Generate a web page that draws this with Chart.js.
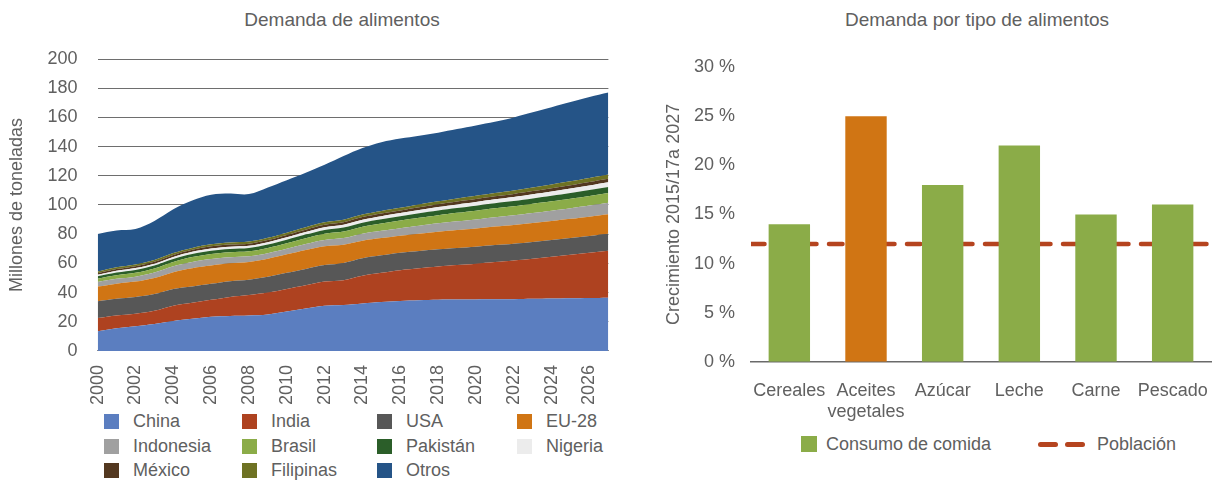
<!DOCTYPE html>
<html>
<head>
<meta charset="utf-8">
<script src="https://cdn.jsdelivr.net/npm/chart.js@4.4.1/dist/chart.umd.min.js"></script>
<style>
    body { margin: 0; background: #fff; font-family: 'Liberation Sans', Arial, sans-serif; color: #606060; }
    #page { position: relative; width: 1213px; height: 480px; overflow: hidden; }
    .title { position: absolute; top: 9px; font-size: 19px; line-height: 22px; white-space: nowrap; transform: translateX(-50%); }
    #boxLeft { position: absolute; left: 0; top: 0; width: 636px; height: 411px; }
    #boxRight { position: absolute; left: 640px; top: 0; width: 573px; height: 433px; }
    .leg { position: absolute; font-size: 18px; white-space: nowrap; line-height: 20px; }
    .sw { position: absolute; width: 15px; height: 15px; }
    .dash { position: absolute; width: 20px; height: 5px; border-radius: 3px; background: #b5441f; }
</style>
</head>
<body>
<div id="page">
    <div class="title" style="left:342px">Demanda de alimentos</div>
    <div class="title" style="left:977px">Demanda por tipo de alimentos</div>
    <div id="boxLeft"><canvas id="demandChart"></canvas></div>
    <div id="boxRight"><canvas id="typeChart"></canvas></div>
    <div id="legendLeft"></div>
    <div id="legendRight"></div>
</div>
<script>
// --- Datos: demanda de alimentos (millones de toneladas) ---
const years = ['2000', '2001', '2002', '2003', '2004', '2005', '2006', '2007', '2008', '2009',
    '2010', '2011', '2012', '2013', '2014', '2015', '2016', '2017', '2018', '2019',
    '2020', '2021', '2022', '2023', '2024', '2025', '2026', '2027'];

const china = [13.5, 15.5, 17, 18.5, 20.5, 22, 23.5, 24, 24.3, 25, 27, 29, 31, 31.5, 32.5, 33.5, 34.3, 34.8, 35.1, 35.2, 35.3, 35.4, 35.5, 35.7, 35.9, 36.1, 36.3, 36.5];
const india = [9, 8.8, 8.5, 9, 10.5, 11, 11.5, 13, 14, 15, 15.5, 16, 16.5, 17, 19, 20, 21, 21.8, 22.7, 23.6, 24.5, 25.5, 26.5, 27.5, 28.6, 29.8, 31, 32.2];
const usa = [11.6, 11.5, 11.5, 11.5, 11.5, 11.2, 11, 10.8, 10.5, 10.8, 11, 11.2, 11.3, 11.8, 12, 12, 12, 11.9, 11.8, 11.7, 11.6, 11.6, 11.5, 11.5, 11.5, 11.5, 11.5, 11.6];
const eu28 = [10, 10.3, 10.5, 11, 11.5, 12.5, 12.5, 12.2, 12.2, 12.4, 12.7, 13, 13, 12.5, 12, 11.8, 11.6, 11.8, 12, 12.3, 12.5, 12.7, 12.8, 12.9, 13, 13.1, 13.2, 13.3];
const indonesia = [3.2, 3.3, 3.4, 3.7, 4, 4.3, 4.5, 4.2, 3.8, 3.8, 3.8, 4, 4.2, 4.5, 4.8, 5, 5.2, 5.5, 5.8, 6, 6.2, 6.4, 6.6, 6.9, 7.1, 7.3, 7.6, 7.9];
const brasil = [2.2, 2.4, 2.6, 2.8, 3, 3.3, 3.5, 3.5, 3.5, 3.6, 3.8, 4, 4.3, 4.5, 4.8, 5, 5.2, 5.4, 5.6, 5.8, 6, 6.1, 6.2, 6.3, 6.4, 6.5, 6.6, 6.7];
const pakistan = [1.6, 1.9, 2, 2, 2, 2.1, 2.2, 2.2, 2.2, 2.3, 2.4, 2.5, 2.6, 2.7, 2.8, 2.9, 3, 3.1, 3.2, 3.3, 3.4, 3.5, 3.6, 3.7, 3.8, 3.9, 4, 4.1];
const nigeria = [1.1, 1.2, 1.3, 1.3, 1.4, 1.5, 1.5, 1.5, 1.5, 1.6, 1.7, 1.8, 1.9, 2, 2, 2.1, 2.2, 2.3, 2.4, 2.5, 2.6, 2.7, 2.8, 2.9, 3, 3.1, 3.2, 3.3];
const mexico = [1.1, 1.2, 1.3, 1.3, 1.4, 1.4, 1.5, 1.5, 1.5, 1.5, 1.6, 1.6, 1.7, 1.7, 1.8, 1.8, 1.8, 1.9, 1.9, 2, 2, 2, 2.1, 2.1, 2.2, 2.2, 2.3, 2.3];
const filipinas = [1.1, 1.2, 1.2, 1.2, 1.3, 1.3, 1.4, 1.4, 1.4, 1.5, 1.5, 1.6, 1.6, 1.7, 1.7, 1.8, 1.8, 1.9, 2, 2.1, 2.2, 2.3, 2.4, 2.5, 2.6, 2.7, 2.8, 3];
const otros = [25.8, 25.2, 24.2, 26.7, 29.9, 32.4, 33.9, 33.5, 32.6, 34.5, 36, 37.3, 39.4, 43.6, 45.6, 47.1, 47.4, 47.1, 47, 47.5, 48.2, 48.8, 50, 51.5, 52.9, 54.3, 55.5, 56.1];
const yTicksLeft = [0, 20, 40, 60, 80, 100, 120, 140, 160, 180, 200];

// --- Datos: crecimiento por tipo de alimento ---
const foodTypes = ['Cereales', ['Aceites', 'vegetales'], 'Azúcar', 'Leche', 'Carne', 'Pescado'];
const foodGrowth = [14, 25, 18, 22, 15, 16];
const populationGrowth = 12;
const yTicksRight = [0, 5, 10, 15, 20, 25, 30];

const grey = '#606060';
const series = [
    { name: 'China', data: china, color: '#5b7ec0' },
    { name: 'India', data: india, color: '#ae4220' },
    { name: 'USA', data: usa, color: '#575757' },
    { name: 'EU-28', data: eu28, color: '#d07514' },
    { name: 'Indonesia', data: indonesia, color: '#a0a0a0' },
    { name: 'Brasil', data: brasil, color: '#8bac48' },
    { name: 'Pakistán', data: pakistan, color: '#2b5e29' },
    { name: 'Nigeria', data: nigeria, color: '#ececec' },
    { name: 'México', data: mexico, color: '#533820' },
    { name: 'Filipinas', data: filipinas, color: '#6e7223' },
    { name: 'Otros', data: otros, color: '#255487' }
];

Chart.defaults.font.family = "'Liberation Sans', Arial, sans-serif";
Chart.defaults.color = grey;
Chart.defaults.animation = false;

// Gráfico de áreas apiladas
new Chart(document.getElementById('demandChart'), {
    type: 'line',
    data: {
        labels: years,
        datasets: series.map((s, i) => ({
            label: s.name,
            data: s.data,
            backgroundColor: s.color,
            borderColor: s.color,
            borderWidth: 0,
            pointRadius: 0,
            tension: 0.35,
            fill: i === 0 ? 'origin' : '-1'
        }))
    },
    options: {
        responsive: true,
        maintainAspectRatio: false,
        layout: { padding: { top: 59, right: 10, left: 6 } },
        plugins: { legend: { display: false }, tooltip: { enabled: false } },
        scales: {
            x: {
                offset: false,
                grid: { display: false },
                border: { color: '#8a8a8a' },
                ticks: {
                    autoSkip: false, maxRotation: 90, minRotation: 90,
                    font: { size: 18 }, color: grey, padding: 6,
                    callback: (v, i) => (i % 2 === 0 ? years[i] : '')
                }
            },
            y: {
                stacked: true,
                min: 0, max: 200,
                afterBuildTicks: axis => { axis.ticks = yTicksLeft.map(v => ({ value: v })); },
                grid: { color: '#6e6e6e', drawTicks: false },
                border: { display: false },
                ticks: { font: { size: 18 }, color: grey, padding: 20 },
                title: { display: true, text: 'Millones de toneladas', font: { size: 18 }, color: grey, padding: 0 }
            }
        }
    }
});

// Gráfico de barras con línea de población
new Chart(document.getElementById('typeChart'), {
    type: 'bar',
    data: {
        labels: foodTypes,
        datasets: [
            {
                label: 'Consumo de comida',
                data: foodGrowth,
                backgroundColor: foodTypes.map((t, i) => (i === 1 ? '#d07514' : '#8bac48')),
                grouped: false,
                categoryPercentage: 0.54,
                barPercentage: 1
            },
            {
                type: 'line',
                label: 'Población',
                data: [{ x: 0, y: populationGrowth }, { x: 1, y: populationGrowth }],
                xAxisID: 'x2',
                borderColor: '#b5441f',
                borderWidth: 4.5,
                borderDash: [13.5, 12.5],
                borderCapStyle: 'round',
                pointRadius: 0,
                fill: false
            }
        ]
    },
    options: {
        responsive: true,
        maintainAspectRatio: false,
        layout: { padding: { top: 67, right: 2, left: 23 } },
        plugins: { legend: { display: false }, tooltip: { enabled: false } },
        scales: {
            x: {
                grid: { display: false },
                border: { color: '#6a6a6a', width: 1.5 },
                ticks: { font: { size: 18 }, color: grey, padding: 10, autoSkip: false, maxRotation: 0, minRotation: 0 },
                afterFit: axis => { axis.paddingLeft = 0; axis.paddingRight = 0; }
            },
            x2: {
                type: 'linear', min: 0, max: 1, display: false,
                offset: false, grid: { offset: false }
            },
            y: {
                min: 0, max: 30,
                afterBuildTicks: axis => { axis.ticks = yTicksRight.map(v => ({ value: v })); },
                afterFit: axis => { axis.width = 88; },
                grid: { display: false },
                border: { display: false },
                ticks: { font: { size: 18 }, color: grey, padding: 8, callback: v => v + ' %' },
                title: { display: true, text: 'Crecimiento 2015/17a 2027', font: { size: 18 }, color: grey, padding: 0 }
            }
        }
    }
});

// Leyendas
const legendLeft = document.getElementById('legendLeft');
const colX = [104, 242, 377, 517];
const rowY = [421, 446, 470];
series.forEach((s, i) => {
    const x = colX[i % 4], y = rowY[Math.floor(i / 4)];
    const sw = document.createElement('div');
    sw.className = 'sw';
    sw.style.left = x + 'px';
    sw.style.top = (y - 7) + 'px';
    sw.style.background = s.color;
    legendLeft.appendChild(sw);
    const t = document.createElement('div');
    t.className = 'leg';
    t.style.left = (x + 29) + 'px';
    t.style.top = (y - 10) + 'px';
    t.textContent = s.name;
    legendLeft.appendChild(t);
});

const legendRight = document.getElementById('legendRight');
legendRight.innerHTML =
    '<div class="sw" style="left:801px;top:436px;width:16px;height:16px;background:#8bac48"></div>' +
    '<div class="leg" style="left:826px;top:434px">Consumo de comida</div>' +
    '<div class="dash" style="left:1038px;top:442px"></div>' +
    '<div class="dash" style="left:1065px;top:442px"></div>' +
    '<div class="leg" style="left:1097px;top:434px">Población</div>';
</script>
</body>
</html>
